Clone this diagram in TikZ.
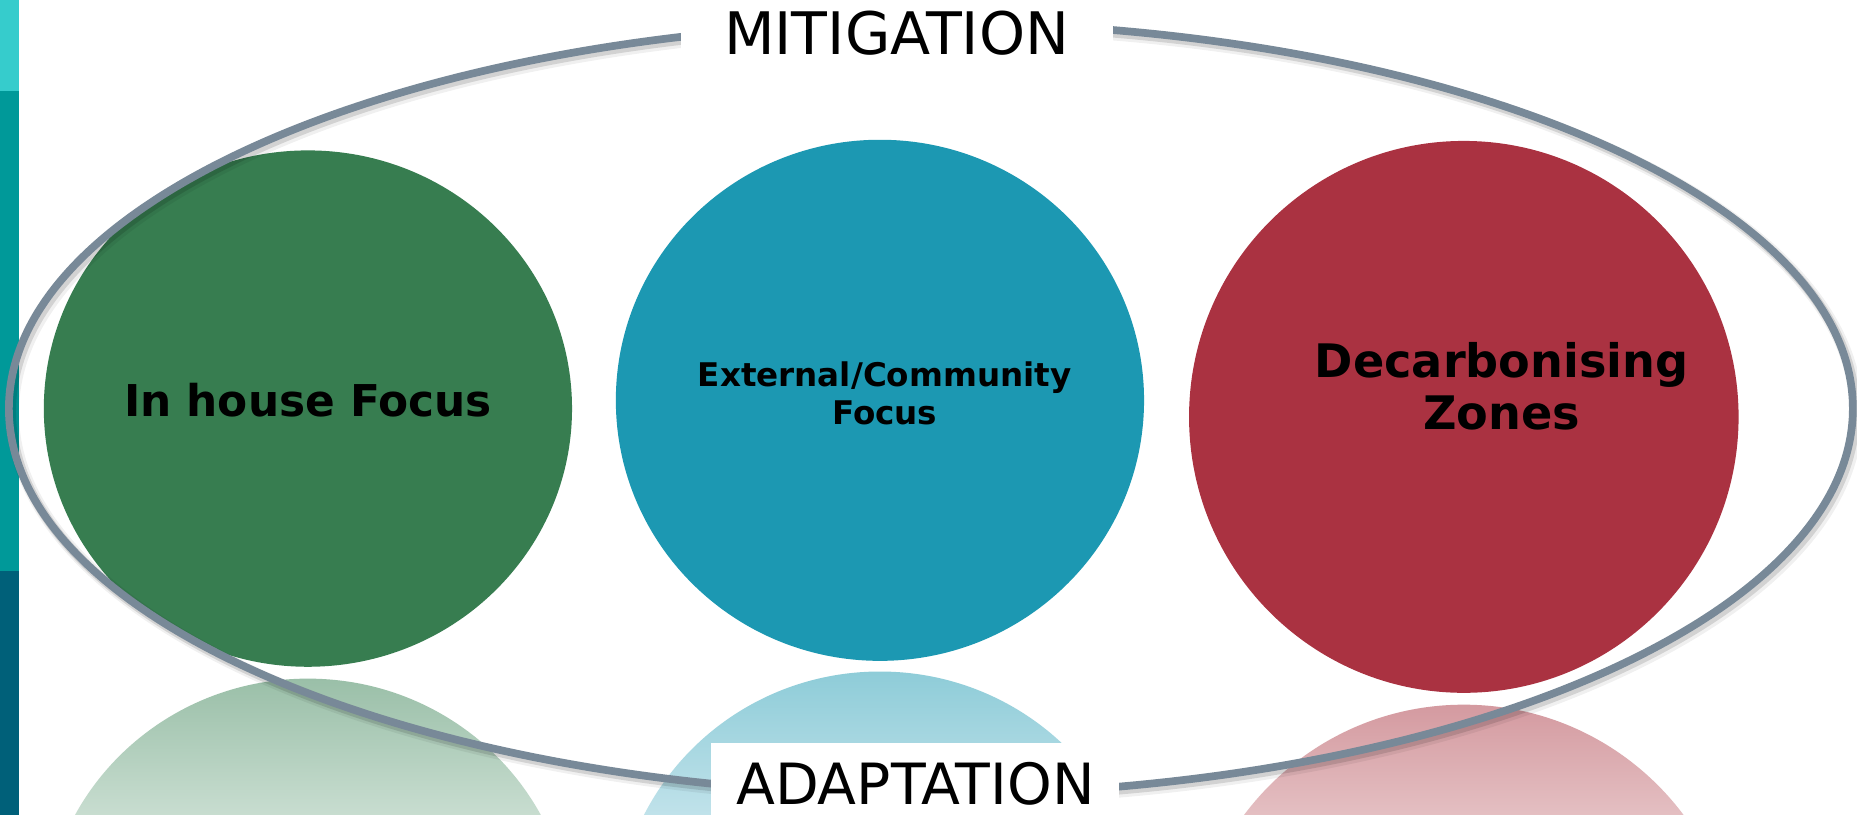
\documentclass[tikz,border=0pt]{standalone}
\usepackage{fontspec}
\setmainfont{DejaVu Sans}
\usetikzlibrary{shapes.geometric}
\definecolor{barlight}{HTML}{36CCCC}
\definecolor{barteal}{HTML}{009999}
\definecolor{bardark}{HTML}{006079}
\definecolor{cgreen}{HTML}{377D50}
\definecolor{cblue}{HTML}{1C98B2}
\definecolor{cred}{HTML}{AA3241}
\definecolor{ringcol}{HTML}{788998}
\definecolor{rgtop}{HTML}{9ABFA8}
\definecolor{rgbot}{HTML}{C8DDD0}
\definecolor{rbtop}{HTML}{8ECCD8}
\definecolor{rbbot}{HTML}{C0E2EA}
\definecolor{rrtop}{HTML}{D49AA0}
\definecolor{rrbot}{HTML}{E4BFC2}
\tikzset{
  bubble/.style={ellipse, draw=none, inner sep=0pt},
  bubbletext/.style={font=\bfseries, text=black, align=center, inner sep=0pt},
  ringlabel/.style={fill=white, text=black, inner sep=0pt},
}
\begin{document}
\begin{tikzpicture}[x=1pt,y=-1pt]
\useasboundingbox (0,0) rectangle (1568,688);
\fill[white] (0,0) rectangle (1568,688);
% side bar
\fill[barlight] (0,0) rectangle (16,77);
\fill[barteal] (0,77) rectangle (16,482);
\fill[bardark] (0,482) rectangle (16,688);
% reflections
\begin{scope}
  \clip (260,791) ellipse [x radius=223, y radius=218];
  \shade[top color=rgtop, bottom color=rgbot] (30,573) rectangle (490,688);
\end{scope}
\begin{scope}
  \clip (743,787) ellipse [x radius=223, y radius=220];
  \shade[top color=rbtop, bottom color=rbbot] (515,567) rectangle (970,688);
\end{scope}
\begin{scope}
  \clip (1236,828) ellipse [x radius=232, y radius=233];
  \shade[top color=rrtop, bottom color=rrbot] (1000,595) rectangle (1470,688);
\end{scope}
% circles
\node[bubble, fill=cgreen, minimum width=446, minimum height=436] (green) at (260,345) {};
\node[bubble, fill=cblue, minimum width=446, minimum height=440] (blue) at (743,338) {};
\node[bubble, fill=cred, minimum width=464, minimum height=466] (red) at (1236,352) {};
% circle texts
\node[bubbletext, font=\fontsize{37}{44}\selectfont\bfseries] (tgreen) at (260,338) {In house Focus};
\node[bubbletext, font=\fontsize{27.5}{32}\selectfont\bfseries] (tblue) at (747,332) {External/Community\\Focus};
\node[bubbletext, font=\fontsize{39}{44}\selectfont\bfseries] (tred) at (1268,326) {Decarbonising\\Zones};
% ring shadow
\draw[black, opacity=0.06, line width=11] (789,348.5) ellipse [x radius=778.5, y radius=326];
\draw[black, opacity=0.12, line width=8] (788,347.5) ellipse [x radius=778.5, y radius=326];
% ring
\draw[ringcol, line width=6.5] (786,345) ellipse [x radius=778.5, y radius=326];
% labels
\fill[white] (575,0) rectangle (940,52);
\node[ringlabel, font=\fontsize{49.5}{58}\selectfont] (mit) at (757,28) {MITIGATION};
\fill[white] (600,627) rectangle (945,688);
\node[ringlabel, font=\fontsize{48}{56}\selectfont] (ada) at (773,662) {ADAPTATION};
\end{tikzpicture}
\end{document}
